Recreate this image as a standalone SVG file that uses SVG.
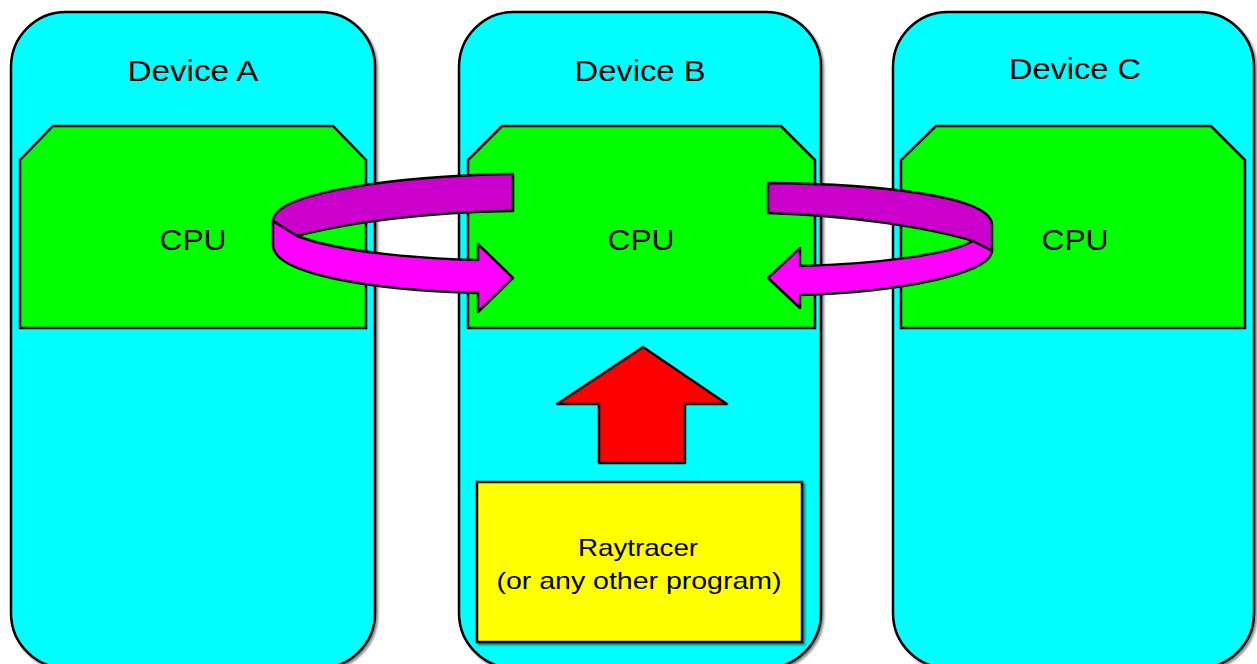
<svg xmlns="http://www.w3.org/2000/svg" width="1257" height="664" viewBox="0 0 1257 664">
<defs>
<filter id="sh" x="-5%" y="-5%" width="110%" height="110%">
<feDropShadow dx="2" dy="2" stdDeviation="1.2" flood-color="#000" flood-opacity="0.45"/>
</filter>
</defs>
<style>
.dev{fill:#00FFFF;stroke:#000;stroke-width:2.5;filter:url(#sh)}
.cpu{fill:#00FF00;stroke:#000;stroke-width:2.5}
.lbl{font-family:"Liberation Sans",Arial,sans-serif;font-size:29px;fill:#000;text-anchor:middle}
.sm{font-size:24px}
.dark{fill:#CC00CC;stroke:#000;stroke-width:2.5;stroke-linejoin:round}
.light{fill:#FF00FF;stroke:#000;stroke-width:2.5;stroke-linejoin:round}
.red{fill:#FF0000;stroke:#000;stroke-width:2.5;stroke-linejoin:round}
.prog{fill:#FFFF00;stroke:#000;stroke-width:2.5;filter:url(#sh)}
</style>
<g id="deviceA">
<rect class="dev" x="11" y="12" width="364" height="656" rx="55" ry="55"/>
<text class="lbl" x="193" y="81" textLength="131" lengthAdjust="spacingAndGlyphs">Device A</text>
</g>
<g id="deviceB">
<rect class="dev" x="459" y="12" width="362" height="656" rx="55" ry="55"/>
<text class="lbl" x="640" y="81" textLength="131" lengthAdjust="spacingAndGlyphs">Device B</text>
</g>
<g id="deviceC">
<rect class="dev" x="893" y="12" width="361" height="656" rx="55" ry="55"/>
<text class="lbl" x="1075" y="79" textLength="132" lengthAdjust="spacingAndGlyphs">Device C</text>
</g>
<g id="cpuA">
<polygon class="cpu" points="53,126 333,126 366,160 366,328 20,328 20,160"/>
<text class="lbl" x="193" y="250" textLength="67" lengthAdjust="spacingAndGlyphs">CPU</text>
</g>
<g id="cpuB">
<polygon class="cpu" points="502,126 781,126 815,160 815,328 468,328 468,160"/>
<text class="lbl" x="641" y="250" textLength="67" lengthAdjust="spacingAndGlyphs">CPU</text>
</g>
<g id="cpuC">
<polygon class="cpu" points="936,126 1211,126 1245,160 1245,328 901,328 901,160"/>
<text class="lbl" x="1075" y="250" textLength="67" lengthAdjust="spacingAndGlyphs">CPU</text>
</g>
<g id="program">
<rect class="prog" x="477" y="482" width="325" height="160"/>
<text class="lbl sm" x="638" y="556" textLength="120" lengthAdjust="spacingAndGlyphs">Raytracer</text>
<text class="lbl sm" x="639" y="589" textLength="285" lengthAdjust="spacingAndGlyphs">(or any other program)</text>
</g>
<g id="connectors">
<path class="dark" d="M513,174 C400,176 273,192 273,221 L297,236 C350,222 430,212 513,211 Z"/>
<path class="light" d="M273,221 L297,236 C340,252 420,259 478,260 L478,244 L513,278 L478,312 L478,293 C370,290 273,274 273,245 Z"/>
<path class="dark" d="M768,183 C880,184 992,196 992,225 L992,251 L973,241 C930,228 850,215 768,213 Z"/>
<path class="light" d="M973,241 L992,251 C990,274 900,292 800,295 L800,308 L768,278 L800,248 L800,266 C880,264 950,254 973,241 Z"/>
<polygon class="red" points="643,347 727,404 685,404 685,463 599,463 599,404 557,404"/>
</g>
</svg>
